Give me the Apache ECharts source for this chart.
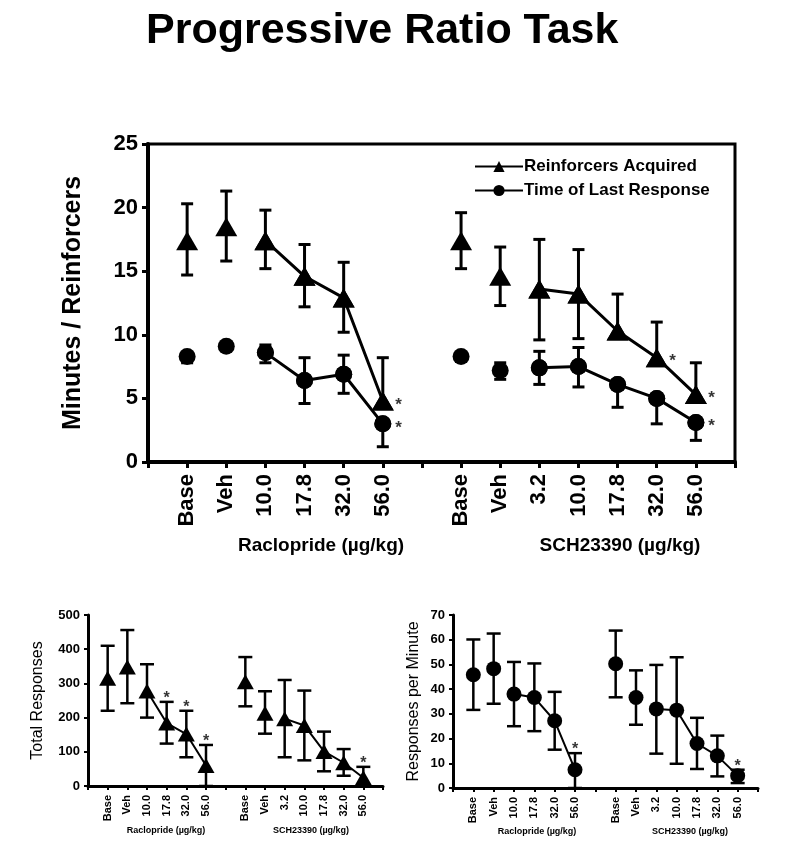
<!DOCTYPE html>
<html>
<head>
<meta charset="utf-8">
<script src="https://cdn.jsdelivr.net/npm/echarts@6/dist/echarts.min.js"></script>
<style>html,body{margin:0;padding:0;background:#fff;}#c{width:800px;height:844px;}</style>
</head>
<body>
<div id="c"></div>
<script>
// ---------- data ----------
const racloprideDoses = ['Base', 'Veh', '10.0', '17.8', '32.0', '56.0'];
const schDoses = ['Base', 'Veh', '3.2', '10.0', '17.8', '32.0', '56.0'];
const xCategories = [''].concat(racloprideDoses, [''], schDoses, ['']);

// Top panel: Reinforcers acquired (triangles) and time of last response (circles)
const reinfRaclo = [17.4, 18.5, 17.4, 14.6, 12.9, 4.8];
const reinfRacloUp = [2.9, 2.8, 2.4, 2.5, 2.8, 3.4];
const reinfRacloDown = [2.7, 2.7, 2.2, 2.4, 2.7, 0];
const reinfRacloSig = [0, 0, 0, 0, 0, 1];
const reinfSch = [17.4, 14.6, 13.6, 13.2, 10.3, 8.2, 5.3];
const reinfSchUp = [2.2, 2.3, 3.9, 3.5, 2.9, 2.8, 2.5];
const reinfSchDown = [2.2, 2.3, 4.0, 3.5, 0, 0, 0];
const reinfSchSig = [0, 0, 0, 0, 0, 1, 1];

const timeRaclo = [8.3, 9.1, 8.6, 6.4, 6.9, 3.0];
const timeRacloUp = [0, 0, 0.6, 1.8, 1.5, 0];
const timeRacloDown = [0.5, 0, 0.8, 1.8, 1.5, 1.8];
const timeRacloSig = [0, 0, 0, 0, 0, 1];
const timeSch = [8.3, 7.2, 7.4, 7.5, 6.1, 5.0, 3.1];
const timeSchUp = [0, 0.6, 1.3, 1.5, 0, 0, 0];
const timeSchDown = [0.4, 0.7, 1.3, 1.6, 1.8, 2.0, 1.4];
const timeSchSig = [0, 0, 0, 0, 0, 0, 1];

// Bottom left: total responses (triangles)
const totalRaclo = [315, 348, 278, 184, 152, 60];
const totalRacloUp = [95, 108, 78, 62, 68, 60];
const totalRacloDown = [95, 106, 78, 60, 68, 60];
const totalRacloSig = [0, 0, 0, 1, 1, 1];
const totalSch = [305, 213, 197, 177, 101, 68, 24];
const totalSchUp = [72, 64, 113, 102, 58, 40, 32];
const totalSchDown = [72, 60, 113, 102, 58, 38, 24];
const totalSchSig = [0, 0, 0, 0, 0, 0, 1];

// Bottom right: responses per minute (circles)
const rateRaclo = [45.8, 48.3, 38.0, 36.6, 27.2, 7.4];
const rateRacloUp = [14.3, 14.2, 13.0, 13.8, 11.7, 6.7];
const rateRacloDown = [14.2, 14.2, 13.0, 13.6, 11.7, 7.4];
const rateRacloSig = [0, 0, 0, 0, 0, 1];
const rateSch = [50.3, 36.6, 32.0, 31.5, 18.0, 13.0, 5.0];
const rateSchUp = [13.4, 11.0, 17.8, 21.4, 10.4, 8.2, 2.4];
const rateSchDown = [13.6, 11.0, 18.1, 21.7, 10.3, 8.3, 3.0];
const rateSchSig = [0, 0, 0, 0, 0, 0, 1];

const legendNames = ['Reinforcers Acquired', 'Time of Last Response'];

// ---------- helpers ----------
const FONT = 'Liberation Sans, Arial, sans-serif';
const RACLO_START = 1;
const SCH_START = racloprideDoses.length + 2;
function pts(vals, start) { return vals.map((v, i) => [start + i, v]); }
function sigPts(vals, sig, start, up) { const out = []; vals.forEach((v, i) => { if (sig[i]) out.push([start + i, up ? v + up[i] : v]); }); return out; }

function errSeriesSplit(gi, vals, up, down, start, cap, lw) {
  const upD = [], dnD = [];
  vals.forEach((v, i) => {
    if (up[i] > 0) upD.push([start + i, v, v + up[i]]);
    if (down[i] > 0) dnD.push([start + i, v - down[i], v]);
  });
  const mk = (data, capAtHi) => ({
    type: 'custom', xAxisIndex: gi, yAxisIndex: gi, z: 3, silent: true, data: data,
    renderItem: function (params, api) {
      const x = api.value(0);
      const pLo = api.coord([x, api.value(1)]);
      const pHi = api.coord([x, api.value(2)]);
      const st = { stroke: '#000', lineWidth: lw };
      const cp = capAtHi ? pHi : pLo;
      return { type: 'group', children: [
        { type: 'line', shape: { x1: pLo[0], y1: pLo[1], x2: pHi[0], y2: pHi[1] }, style: st },
        { type: 'line', shape: { x1: cp[0] - cap, y1: cp[1], x2: cp[0] + cap, y2: cp[1] }, style: st }
      ] };
    }
  });
  return [mk(upD, true), mk(dnD, false)];
}
function scatter(gi, data, symbol, size) {
  return { type: 'scatter', xAxisIndex: gi, yAxisIndex: gi, data: data, symbol: symbol, symbolSize: size,
    itemStyle: { color: '#000', opacity: 1 }, z: 5, silent: true };
}
function line(gi, name, data, symbol, size, lw) {
  return { type: 'line', name: name, xAxisIndex: gi, yAxisIndex: gi, data: data, symbol: symbol, symbolSize: size,
    showSymbol: true, lineStyle: { color: '#000', width: lw }, itemStyle: { color: '#000' }, z: 4, silent: true, animation: false };
}
function stars(gi, data, pos, fs, offset) {
  return { type: 'scatter', xAxisIndex: gi, yAxisIndex: gi, data: data, symbol: 'circle', symbolSize: 1,
    itemStyle: { color: 'rgba(0,0,0,0)' }, z: 6, silent: true,
    label: { show: true, formatter: '*', position: pos, offset: offset, color: '#000', fontSize: fs, fontWeight: 'bold', fontFamily: FONT, distance: 0 } };
}

const gridsDef = [
  { left: 148, right: 65, top: 144, bottom: 382, show: true, borderColor: '#000', borderWidth: 3, backgroundColor: 'transparent' },
  { left: 88, right: 417, top: 615, bottom: 58 },
  { left: 453, right: 42, top: 615, bottom: 56 }
];

function xAxisDef(gi, fs, lw, margin) {
  return {
    type: 'category', gridIndex: gi, data: xCategories, boundaryGap: false,
    axisLine: { lineStyle: { color: '#000', width: lw } },
    axisTick: { show: true, interval: 0, length: gi === 0 ? 6 : 4, lineStyle: { color: '#000', width: lw - 1 } },
    axisLabel: { interval: 0, rotate: 90, color: '#000', fontSize: fs, fontWeight: 'bold', fontFamily: FONT, margin: margin },
    splitLine: { show: false }
  };
}
function yAxisDef(gi, max, interval, name, nfs, nw, gap, fs, lw) {
  return {
    type: 'value', gridIndex: gi, min: 0, max: max, interval: interval,
    name: name, nameLocation: 'middle', nameGap: gap, nameRotate: 90,
    nameTextStyle: { color: '#000', fontSize: nfs, fontWeight: nw, fontFamily: FONT },
    axisLine: { show: true, lineStyle: { color: '#000', width: lw } },
    axisTick: { show: true, length: gi === 0 ? 6 : 4, lineStyle: { color: '#000', width: lw - 1 } },
    axisLabel: { color: '#000', fontSize: fs, fontWeight: 'bold', fontFamily: FONT, margin: gi === 0 ? 10 : 8 },
    splitLine: { show: false }
  };
}

const series = [];
// ---- top panel (grid 0) ----
const TRI = [22, 19], CIR = 17;
series.push(...errSeriesSplit(0, reinfRaclo, reinfRacloUp, reinfRacloDown, RACLO_START, 6, 3));
series.push(...errSeriesSplit(0, reinfSch, reinfSchUp, reinfSchDown, SCH_START, 6, 3));
series.push(...errSeriesSplit(0, timeRaclo, timeRacloUp, timeRacloDown, RACLO_START, 6, 3));
series.push(...errSeriesSplit(0, timeSch, timeSchUp, timeSchDown, SCH_START, 6, 3));
series.push(line(0, legendNames[0], pts(reinfRaclo.slice(2), RACLO_START + 2), 'triangle', TRI, 3));
series.push(line(0, legendNames[0], pts(reinfSch.slice(2), SCH_START + 2), 'triangle', TRI, 3));
series.push(line(0, legendNames[1], pts(timeRaclo.slice(2), RACLO_START + 2), 'circle', CIR, 3));
series.push(line(0, legendNames[1], pts(timeSch.slice(2), SCH_START + 2), 'circle', CIR, 3));
series.push(scatter(0, pts(reinfRaclo, RACLO_START).concat(pts(reinfSch, SCH_START)), 'triangle', TRI));
series.push(scatter(0, pts(timeRaclo, RACLO_START).concat(pts(timeSch, SCH_START)), 'circle', CIR));
series.push(stars(0, sigPts(reinfRaclo, reinfRacloSig, RACLO_START).concat(sigPts(reinfSch, reinfSchSig, SCH_START), sigPts(timeRaclo, timeRacloSig, RACLO_START), sigPts(timeSch, timeSchSig, SCH_START)), 'right', 17, [12, 4]));

// ---- bottom left (grid 1) ----
series.push(...errSeriesSplit(1, totalRaclo, totalRacloUp, totalRacloDown, RACLO_START, 7, 2.5));
series.push(...errSeriesSplit(1, totalSch, totalSchUp, totalSchDown, SCH_START, 7, 2.5));
series.push(line(1, 'tr', pts(totalRaclo.slice(2), RACLO_START + 2), 'none', 1, 2));
series.push(line(1, 'ts', pts(totalSch.slice(2), SCH_START + 2), 'none', 1, 2));
series.push(scatter(1, pts(totalRaclo, RACLO_START).concat(pts(totalSch, SCH_START)), 'triangle', [17, 15]));
series.push(stars(1, sigPts(totalRaclo, totalRacloSig, RACLO_START, totalRacloUp).concat(sigPts(totalSch, totalSchSig, SCH_START, totalSchUp)), 'top', 16, [0, 5]));

// ---- bottom right (grid 2) ----
series.push(...errSeriesSplit(2, rateRaclo, rateRacloUp, rateRacloDown, RACLO_START, 7, 2.5));
series.push(...errSeriesSplit(2, rateSch, rateSchUp, rateSchDown, SCH_START, 7, 2.5));
series.push(line(2, 'rr', pts(rateRaclo.slice(2), RACLO_START + 2), 'none', 1, 2));
series.push(line(2, 'rs', pts(rateSch.slice(2), SCH_START + 2), 'none', 1, 2));
series.push(scatter(2, pts(rateRaclo, RACLO_START).concat(pts(rateSch, SCH_START)), 'circle', 15));
series.push(stars(2, sigPts(rateRaclo, rateRacloSig, RACLO_START, rateRacloUp).concat(sigPts(rateSch, rateSchSig, SCH_START, rateSchUp)), 'top', 16, [0, 5]));

const groupLabel = (x, y, text, fs) => ({ type: 'text', x: x, y: y, style: { text: text, fill: '#000', font: 'bold ' + fs + 'px ' + FONT, textAlign: 'center', textVerticalAlign: 'middle' } });

const option = {
  animation: false,
  backgroundColor: '#fff',
  title: { text: 'Progressive Ratio Task', left: 141, top: 5, textStyle: { color: '#000', fontSize: 43, fontWeight: 'bold', fontFamily: FONT } },
  legend: {
    data: legendNames, orient: 'vertical', left: 469, top: 153, itemWidth: 48, itemHeight: 14, itemGap: 7,
    textStyle: { color: '#000', fontSize: 17, fontWeight: 'bold', fontFamily: FONT, padding: [0, 0, 0, -4] }
  },
  grid: gridsDef,
  xAxis: [xAxisDef(0, 22, 4, 12), xAxisDef(1, 11, 3, 9), xAxisDef(2, 11, 3, 9)],
  yAxis: [
    yAxisDef(0, 25, 5, 'Minutes / Reinforcers', 25, 'bold', 62, 22, 4),
    yAxisDef(1, 500, 100, 'Total Responses', 16, 'normal', 42, 13, 3),
    yAxisDef(2, 70, 10, 'Responses per Minute', 16, 'normal', 31, 13, 3)
  ],
  graphic: [
    groupLabel(321, 546, 'Raclopride (µg/kg)', 19),
    groupLabel(620, 546, 'SCH23390 (µg/kg)', 19),
    groupLabel(166, 831, 'Raclopride (µg/kg)', 9),
    groupLabel(311, 831, 'SCH23390 (µg/kg)', 9),
    groupLabel(537, 832, 'Raclopride (µg/kg)', 9),
    groupLabel(690, 832, 'SCH23390 (µg/kg)', 9)
  ],
  series: series
};

const chart = echarts.init(document.getElementById('c'), null, { renderer: 'canvas' });
chart.setOption(option);
</script>
</body>
</html>
